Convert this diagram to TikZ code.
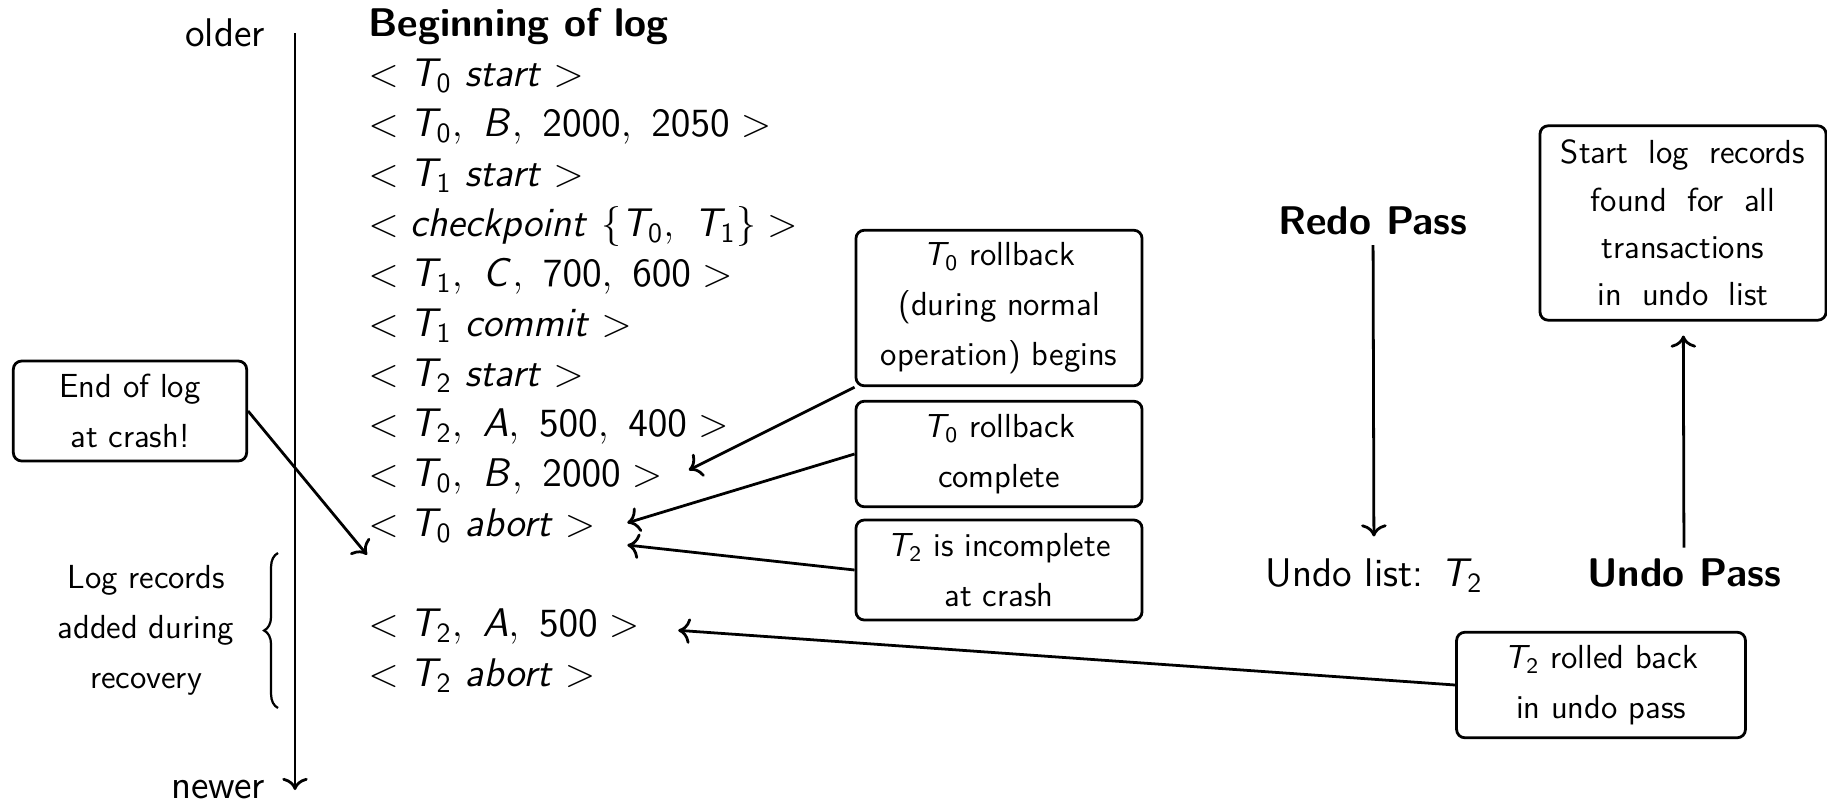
\documentclass[tikz,border=0pt]{standalone}
\usetikzlibrary{arrows.meta,matrix,positioning,decorations.pathreplacing}
\renewcommand{\familydefault}{\sfdefault}
\DeclareMathAlphabet{\mathsfsl}{OT1}{cmss}{m}{sl}
\newcommand{\tx}[1]{\mathsfsl{T}_{\mathsf{#1}}}
\newcommand{\vv}[1]{\mathsfsl{#1}}
\newcommand{\nn}[1]{\mathsf{#1}}
\newcommand{\widespace}{\spaceskip=7.3pt\relax}

\tikzset{
  note/.style={draw, rounded corners=3pt, align=center, inner sep=2pt,
    minimum width=103pt, font=\fontsize{12}{18}\selectfont},
  pass/.style={font=\Large\bfseries, anchor=base},
}

\begin{document}
\begin{tikzpicture}[x=0.36pt, y=-0.36pt, line width=1pt, >={To[scale=1.15]}]
  \useasboundingbox (0,0) rectangle (1827,803);

  % time axis
  \coordinate (oldest) at (295,33);
  \coordinate (newest) at (295,790);
  \draw[->] (oldest) -- (newest);
  \node[font=\Large, left=7pt of oldest] (older) {older};
  \node[font=\Large, left=7pt of newest] (newer) {newer};

  % the log
  \matrix (log) [matrix of nodes, anchor=north west, inner sep=0pt, row sep=0pt,
    nodes={anchor=base west, inner sep=0pt, text height=12pt, text depth=6pt, font=\Large}
  ] at (367,2) {
    \textbf{Beginning of log} \\
    $<\tx0\ \vv{start}>$ \\
    $<\tx0,\ \vv{B},\ \nn{2000},\ \nn{2050}>$ \\
    $<\tx1\ \vv{start}>$ \\
    $<\vv{checkpoint}\ \{\tx0,\ \tx1\}>$ \\
    $<\tx1,\ \vv{C},\ \nn{700},\ \nn{600}>$ \\
    $<\tx1\ \vv{commit}>$ \\
    $<\tx2\ \vv{start}>$ \\
    $<\tx2,\ \vv{A},\ \nn{500},\ \nn{400}>$ \\
    $<\tx0,\ \vv{B},\ \nn{2000}>$ \\
    $<\tx0\ \vv{abort}>$ \\[18pt]
    $<\tx2,\ \vv{A},\ \nn{500}>$ \\
    $<\tx2\ \vv{abort}>$ \\
  };

  % recovery records
  \draw[decorate, decoration={brace, amplitude=5pt}, line width=0.8pt] (278,708) -- (278,553);
  \node[font=\fontsize{12}{18}\selectfont, align=center] (added) at (146,630)
    {Log records\\added during\\recovery};

  % notes
  \node[note, minimum width=84pt, minimum height=36pt] (endlog) at (130,411) {End of log\\at crash!};
  \node[note, minimum height=56pt] (rbegin) at (999,308) {$\tx0$ rollback\\(during normal\\operation) begins};
  \node[note, minimum height=38pt] (rdone) at (999,454) {$\tx0$ rollback\\complete};
  \node[note, minimum height=36pt] (incomp) at (999,570) {$\tx2$ is incomplete\\at crash};
  \node[note, minimum width=104pt, minimum height=38pt] (rolled) at (1601,685) {$\tx2$ rolled back\\in undo pass};
  \node[note, minimum height=70pt, font=\fontsize{12}{17}\selectfont\widespace] (found) at (1683,223)
    {Start log records\\found for all\\transactions\\in undo list};

  \draw[->] (endlog.east) -- (log-11-1.south west);
  \draw[->] (rbegin.south west) -- ([xshift=9pt,yshift=3pt]log-10-1.east);
  \draw[->] (rdone.west) -- ([xshift=11pt,yshift=2pt]log-11-1.east);
  \draw[->] (incomp.west) -- ([xshift=11pt,yshift=-6pt]log-11-1.east);
  \draw[->] (rolled.west) -- ([xshift=13.5pt,yshift=-0.7pt]log-12-1.east);

  % passes
  \node[pass] (redo) at (1373,234) {Redo Pass};
  \node[font=\Large, anchor=base] (undolist) at (1374,586) {Undo list: $\tx2$};
  \node[pass] (undopass) at (1684,586) {Undo Pass};
  \draw[->, shorten >=4pt] (redo) -- (undolist);
  \draw[->, shorten >=5pt] (undopass) -- (found);
\end{tikzpicture}
\end{document}
